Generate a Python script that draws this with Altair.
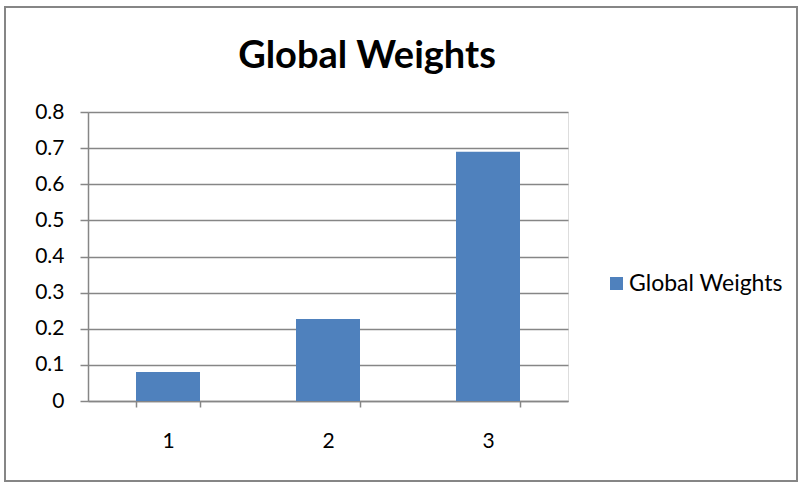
import altair as alt
import pandas as pd

categories = ["1", "2", "3"]
weights = [0.08, 0.227, 0.69]
series_name = "Global Weights"
y_ticks = [0, 0.1, 0.2, 0.3, 0.4, 0.5, 0.6, 0.7, 0.8]

df = pd.DataFrame({"cat": categories, "val": weights, "series": [series_name] * 3})

FONT = "Lato"
GRAY = "#868686"

bars = alt.Chart(df).mark_bar(color="#4F81BD").encode(
    x=alt.X("cat:N", title=None, sort=categories,
            scale=alt.Scale(paddingInner=0.6, paddingOuter=0.3),
            axis=alt.Axis(labelAngle=0, tickBand="extent", tickSize=6, tickColor=GRAY,
                          domainColor=GRAY, domainWidth=1.5, tickWidth=1.5,
                          labelFontSize=21, labelFont=FONT, labelColor="black",
                          labelPadding=23, grid=False)),
    y=alt.Y("val:Q", title=None, scale=alt.Scale(domain=[0, 0.8], nice=False),
            axis=alt.Axis(values=y_ticks, format=".1~f", tickSize=8, tickColor=GRAY,
                          domainColor=GRAY, domainWidth=1.5, tickWidth=1.5,
                          gridColor=GRAY, gridWidth=1.5, grid=True,
                          labelFontSize=21, labelFont=FONT, labelColor="black",
                          labelPadding=16)),
    color=alt.Color("series:N", scale=alt.Scale(range=["#4F81BD"]),
                    legend=alt.Legend(title=None, orient="none", legendX=517, legendY=160,
                                      symbolType="square", symbolSize=169,
                                      symbolStrokeWidth=0, labelFont=FONT,
                                      labelFontSize=23, labelColor="black",
                                      labelOffset=1, padding=0)),
)

frame = alt.Chart(pd.DataFrame({"a": [0]})).mark_rect(
    fill=None, stroke=GRAY, strokeWidth=2
).encode(
    x=alt.value(-83), x2=alt.value(709), y=alt.value(-105), y2=alt.value(369)
)

chart = alt.layer(frame, bars).properties(
    width=480, height=289,
    title=alt.Title("Global Weights", font=FONT, fontSize=38, fontWeight="bold",
                    color="black", anchor="middle", frame="group",
                    baseline="alphabetic", dx=39, dy=100, offset=0),
    autosize=alt.AutoSizeParams(type="none"),
    padding={"left": 88, "top": 112, "right": 230, "bottom": 83},
).configure_view(stroke=None).configure(background="white")

chart.save("out.html", embed_options={"renderer": "svg", "actions": False})
